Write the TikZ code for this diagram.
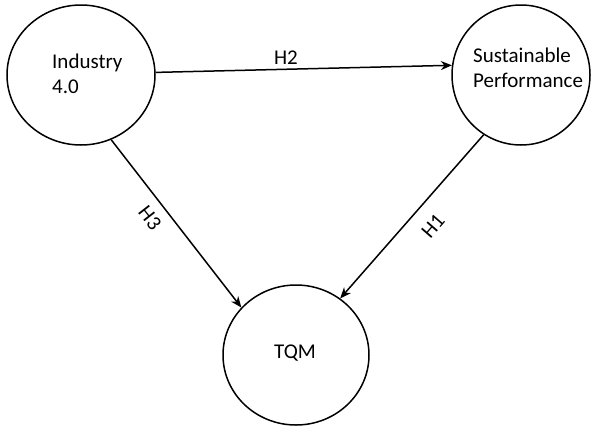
\documentclass[tikz,border=0pt]{standalone}
\usepackage{fontspec}
\setmainfont{Carlito}
\usetikzlibrary{shapes.geometric,arrows.meta}
\begin{document}
\begin{tikzpicture}[x=1pt,y=-1pt,
  circ/.style={draw,ellipse,line width=1.5pt,inner sep=0pt},
  lbl/.style={font=\fontsize{21}{25}\selectfont,align=left,inner sep=0pt},
  conn/.style={line width=1.5pt,-{Stealth[length=11pt,width=9pt]}}]
\useasboundingbox[fill=white] (0,0) rectangle (591,426);
\node[circ,minimum width=148pt,minimum height=140pt] (ind) at (81,75) {};
\node[circ,minimum width=138pt,minimum height=140pt] (sus) at (521,75) {};
\node[circ,minimum width=146pt,minimum height=140pt] (tqm) at (296,355) {};
\node[lbl,anchor=west] (indt) at (52,74) {Industry\\4.0};
\node[lbl,anchor=west] (sust) at (473,68) {Sustainable\\Performance};
\node[lbl] (tqmt) at (295,353) {TQM};
\draw[conn] (ind.2) -- (sus.172);
\draw[conn] (ind.-65) -- (tqm.139);
\draw[conn] (sus.-122) -- (tqm.52);
\node[lbl] (h2) at (286,58) {H2};
\node[lbl,rotate=-52] (h3) at (150,218) {H3};
\node[lbl,rotate=49] (h1) at (433,226) {H1};
\end{tikzpicture}
\end{document}
